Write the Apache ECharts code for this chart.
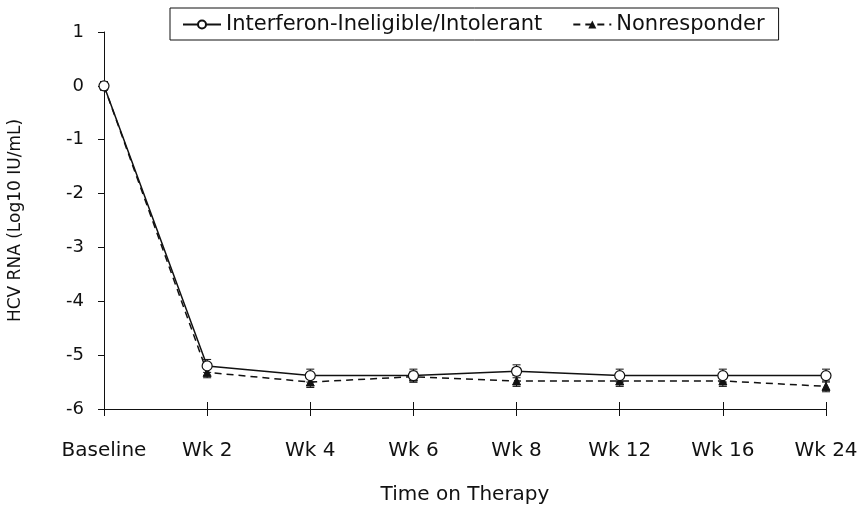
<!DOCTYPE html>
<html>
<head>
<meta charset="utf-8">
<script src="https://cdn.jsdelivr.net/npm/echarts@6/dist/echarts.min.js"></script>
<style>
  html, body { margin: 0; padding: 0; background: #fff; }
  #main { width: 866px; height: 506px; }
</style>
</head>
<body>
<div id="main"></div>
<script>
var categories = ['Baseline', 'Wk 2', 'Wk 4', 'Wk 6', 'Wk 8', 'Wk 12', 'Wk 16', 'Wk 24'];
var ineligible = [0, -5.2, -5.38, -5.38, -5.3, -5.38, -5.38, -5.38];
var nonresponder = [0, -5.32, -5.5, -5.4, -5.48, -5.48, -5.48, -5.58];
var ineligibleErr = [0.08, 0.12, 0.12, 0.12, 0.12, 0.12, 0.12, 0.12];
var nonresponderErr = [0.06, 0.1, 0.1, 0.1, 0.1, 0.1, 0.1, 0.1];

var chart = echarts.init(document.getElementById('main'), null, { renderer: 'canvas' });

function errorSeries(values, errs) {
  return {
    type: 'custom',
    silent: true,
    z: 1,
    data: values.map(function (v, i) { return [i, v - errs[i], v + errs[i]]; }),
    renderItem: function (params, api) {
      var lo = api.coord([api.value(0), api.value(1)]);
      var hi = api.coord([api.value(0), api.value(2)]);
      var w = 4;
      var style = { stroke: '#111', lineWidth: 1 };
      return {
        type: 'group',
        children: [
          { type: 'line', shape: { x1: lo[0], y1: lo[1], x2: hi[0], y2: hi[1] }, style: style },
          { type: 'line', shape: { x1: lo[0] - w, y1: lo[1], x2: lo[0] + w, y2: lo[1] }, style: style },
          { type: 'line', shape: { x1: hi[0] - w, y1: hi[1], x2: hi[0] + w, y2: hi[1] }, style: style }
        ]
      };
    }
  };
}

var font = 'DejaVu Sans';
var txt = { fontFamily: font, fontSize: 20, color: '#111' };

var option = {
  backgroundColor: '#fff',
  animation: false,
  textStyle: { fontFamily: font },
  legend: {
    left: 170,
    top: 8,
    padding: [6, 14, 5, 12],
    itemGap: 30,
    itemWidth: 38,
    itemHeight: 10,
    borderColor: '#111',
    borderWidth: 1,
    textStyle: { fontFamily: font, fontSize: 21, color: '#111' },
    data: ['Interferon-Ineligible/Intolerant', 'Nonresponder']
  },
  grid: { left: 104, right: 40, top: 32, bottom: 97, outerBoundsMode: 'none', containLabel: false },
  xAxis: [{
    type: 'category',
    gridIndex: 0,
    data: categories,
    boundaryGap: false,
    name: 'Time on Therapy',
    nameLocation: 'middle',
    nameGap: 76,
    nameTextStyle: txt,
    axisLine: { onZero: false, lineStyle: { color: '#111', width: 1 } },
    axisTick: { show: true, interval: 0, length: 7, lineStyle: { color: '#111' } },
    axisLabel: Object.assign({ margin: 32, interval: 0 }, txt),
    splitLine: { show: false }
  }, {
    type: 'category',
    gridIndex: 0,
    data: categories,
    boundaryGap: false,
    position: 'bottom',
    offset: 0,
    axisLine: { show: true, onZero: false, lineStyle: { color: '#111', opacity: 0 } },
    axisTick: { show: true, interval: 0, inside: true, length: 7, lineStyle: { color: '#111' } },
    axisLabel: { show: false },
    splitLine: { show: false }
  }],
  yAxis: {
    type: 'value',
    min: -6,
    max: 1,
    interval: 1,
    name: 'HCV RNA (Log10 IU/mL)',
    nameLocation: 'middle',
    nameGap: 80,
    nameTextStyle: { fontFamily: font, fontSize: 17, color: '#111' },
    axisLine: { show: true, onZero: false, lineStyle: { color: '#111', width: 1 } },
    axisTick: { show: true, length: 6, lineStyle: { color: '#111' } },
    axisLabel: { margin: 20, fontFamily: font, fontSize: 18, color: '#111' },
    splitLine: { show: false }
  },
  series: [
    errorSeries(ineligible, ineligibleErr),
    errorSeries(nonresponder, nonresponderErr),
    {
      name: 'Nonresponder',
      type: 'line',
      data: nonresponder,
      symbol: 'triangle',
      symbolSize: 8,
      z: 2,
      lineStyle: { color: '#111', width: 1.5, type: [7, 5] },
      itemStyle: { color: '#111', borderColor: '#111' }
    },
    {
      name: 'Interferon-Ineligible/Intolerant',
      type: 'line',
      data: ineligible,
      symbol: 'circle',
      symbolSize: 10,
      showAllSymbol: true,
      z: 3,
      lineStyle: { color: '#111', width: 1.5 },
      itemStyle: { color: '#fff', borderColor: '#111', borderWidth: 1.2 }
    }
  ]
};

chart.setOption(option);
</script>
</body>
</html>
